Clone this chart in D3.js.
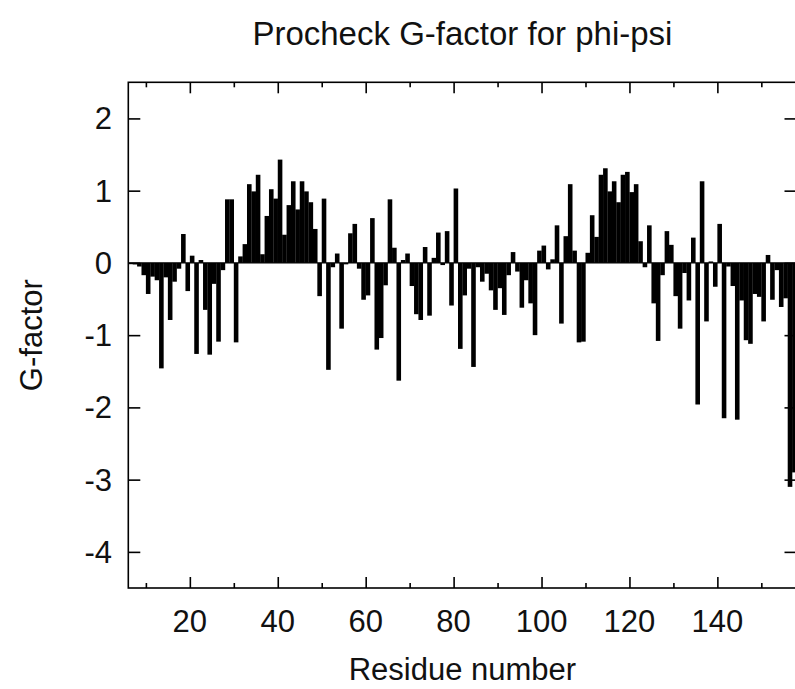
<!DOCTYPE html>
<html lang="en">

<head>
    <meta charset="UTF-8">
    <script src="https://d3js.org/d3.v7.min.js"></script>
    <title>Procheck G-factor</title>
    <style>
        body { margin: 0; background: #fff; }
        svg { display: block; font-family: "Liberation Sans", Arial, sans-serif; }
    </style>
</head>

<body>
    <div id="chart"></div>
    <script>
        // Data: residue numbers and their phi-psi G-factor
        const firstResidue = 6;
        const gFactor = [
            -0.01, -0.02, -0.05, -0.17, -0.43, -0.19, -0.24, -1.46, -0.20, -0.79,   // 6-15
            -0.26, -0.08, 0.40, -0.39, 0.10, -1.26, 0.04, -0.65, -1.27, -0.29,      // 16-25
            -1.09, -0.10, 0.88, 0.88, -1.10, 0.09, 0.26, 1.09, 0.99, 1.22,          // 26-35
            0.12, 0.65, 1.02, 0.89, 1.43, 0.39, 0.80, 1.13, 0.74, 1.13,             // 36-45
            0.99, 0.84, 0.47, -0.46, 0.89, -1.48, -0.06, 0.13, -0.91, -0.02,        // 46-55
            0.41, 0.54, -0.08, -0.51, -0.45, 0.62, -1.20, -1.04, -0.31, 0.88,       // 56-65
            0.21, -1.63, 0.04, 0.13, -0.32, -0.71, -0.79, 0.22, -0.73, 0.07,        // 66-75
            0.42, -0.03, 0.44, -0.59, 1.03, -1.19, -0.45, -0.08, -1.44, -0.06,      // 76-85
            -0.26, -0.15, -0.38, -0.65, -0.35, -0.72, -0.17, 0.15, -0.12, -0.62,    // 86-95
            -0.24, -0.56, -1.00, 0.17, 0.24, -0.09, 0.05, 0.52, -0.84, 0.37,        // 96-105
            1.09, 0.17, -1.10, -1.09, 0.14, 0.66, 0.36, 1.22, 1.31, 0.99,           // 106-115
            1.13, 0.84, 1.22, 1.26, 0.98, 1.09, 0.30, -0.06, 0.52, -0.56,           // 116-125
            -1.08, -0.17, 0.44, 0.25, -0.46, -0.91, -0.14, -0.52, 0.35, -1.96,      // 126-135
            1.13, -0.81, 0.02, -0.33, 0.54, -2.15, -0.05, -0.32, -2.17, -0.52,      // 136-145
            -1.07, -1.12, -0.43, -0.47, -0.81, 0.11, -0.51, -0.10, -0.61, -0.49,    // 146-155
            -3.10, -2.90                                                            // 156-157
        ];
        const xMajorTicks = [20, 40, 60, 80, 100, 120, 140];
        const xMinorTicks = [10, 30, 50, 70, 90, 110, 130, 150];
        const yTicks = [-4, -3, -2, -1, 0, 1, 2];

        const data = gFactor.map((v, i) => ({ residue: firstResidue + i, value: v }));

        const width = 795;
        const height = 689;
        const plot = { left: 128.3, right: 796.5, top: 82.3, bottom: 588 };

        const svg = d3.select("#chart")
            .append("svg")
            .attr("width", width)
            .attr("height", height);

        // Scales
        const xScale = d3.scaleLinear()
            .domain([6, 158])
            .range([plot.left, plot.right]);

        const yScale = d3.scaleLinear()
            .domain([-4.5, 2.5])
            .range([plot.bottom, plot.top]);

        // Bars, one residue wide
        svg.append("g")
            .selectAll("rect")
            .data(data)
            .join("rect")
            .attr("x", d => xScale(d.residue))
            .attr("width", d => xScale(d.residue + 1) - xScale(d.residue) + 0.2)
            .attr("y", d => yScale(Math.max(0, d.value)))
            .attr("height", d => Math.abs(yScale(d.value) - yScale(0)))
            .attr("fill", "#000");

        // Zero line
        svg.append("line")
            .attr("x1", plot.left)
            .attr("x2", plot.right)
            .attr("y1", yScale(0))
            .attr("y2", yScale(0))
            .attr("stroke", "#000")
            .attr("stroke-width", 1.2);

        // X axes (inward ticks on bottom and top)
        const xBottom = svg.append("g")
            .attr("transform", `translate(0,${plot.bottom})`)
            .call(d3.axisTop(xScale).tickValues(xMajorTicks).tickSize(11).tickFormat(""));
        xBottom.append("g")
            .call(d3.axisTop(xScale).tickValues(xMinorTicks).tickSize(5).tickFormat(""));

        const xTop = svg.append("g")
            .attr("transform", `translate(0,${plot.top})`)
            .call(d3.axisBottom(xScale).tickValues(xMajorTicks).tickSize(11).tickFormat(""));
        xTop.append("g")
            .call(d3.axisBottom(xScale).tickValues(xMinorTicks).tickSize(5).tickFormat(""));

        // Y axes (inward ticks on left and right)
        svg.append("g")
            .attr("transform", `translate(${plot.left},0)`)
            .call(d3.axisRight(yScale).tickValues(yTicks).tickSize(12).tickFormat(""));
        svg.append("g")
            .attr("transform", `translate(${plot.right},0)`)
            .call(d3.axisLeft(yScale).tickValues(yTicks).tickSize(12).tickFormat(""));

        svg.selectAll(".domain").remove();
        svg.selectAll(".tick line").attr("stroke", "#000").attr("stroke-width", 1.6);

        // Frame
        svg.append("rect")
            .attr("x", plot.left)
            .attr("y", plot.top)
            .attr("width", plot.right - plot.left)
            .attr("height", plot.bottom - plot.top)
            .attr("fill", "none")
            .attr("stroke", "#000")
            .attr("stroke-width", 1.6);

        // Tick labels
        svg.append("g")
            .selectAll("text")
            .data(xMajorTicks)
            .join("text")
            .attr("x", d => xScale(d))
            .attr("y", 632)
            .attr("text-anchor", "middle")
            .attr("font-size", 31)
            .attr("fill", "#111")
            .text(d => d);

        svg.append("g")
            .selectAll("text")
            .data(yTicks)
            .join("text")
            .attr("x", 112)
            .attr("y", d => yScale(d) + 11)
            .attr("text-anchor", "end")
            .attr("font-size", 31)
            .attr("fill", "#111")
            .text(d => d);

        // Titles
        svg.append("text")
            .attr("x", (plot.left + plot.right) / 2)
            .attr("y", 45)
            .attr("text-anchor", "middle")
            .attr("font-size", 33)
            .attr("fill", "#111")
            .text("Procheck G-factor for phi-psi");

        svg.append("text")
            .attr("x", (plot.left + plot.right) / 2)
            .attr("y", 680)
            .attr("text-anchor", "middle")
            .attr("font-size", 31)
            .attr("fill", "#111")
            .text("Residue number");

        svg.append("text")
            .attr("transform", `translate(42,${yScale(-1)}) rotate(-90)`)
            .attr("text-anchor", "middle")
            .attr("font-size", 31)
            .attr("fill", "#111")
            .text("G-factor");
    </script>
</body>

</html>
